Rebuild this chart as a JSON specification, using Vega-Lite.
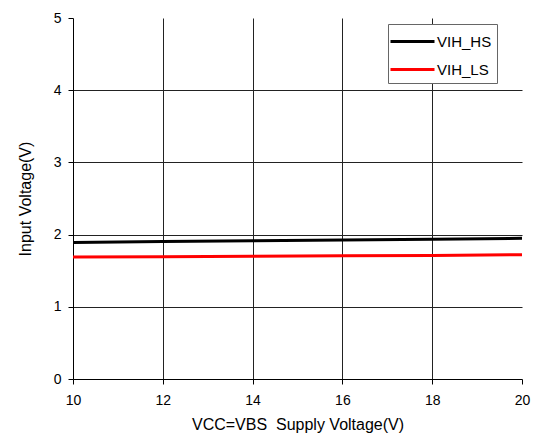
{
  "$schema": "https://vega.github.io/schema/vega-lite/v6.json",
  "width": 449,
  "height": 361,
  "autosize": "none",
  "padding": {"left": 73, "top": 18, "right": 15, "bottom": 58},
  "background": "white",
  "config": {
    "view": {"stroke": null},
    "font": "Liberation Sans",
    "axis": {
      "domainColor": "black",
      "tickColor": "black",
      "gridColor": "#222",
      "gridWidth": 1,
      "labelFont": "Liberation Sans",
      "titleFont": "Liberation Sans",
      "labelColor": "black",
      "titleColor": "black",
      "labelFontSize": 14,
      "titleFontSize": 16,
      "titleFontWeight": "normal",
      "tickSize": 5,
      "labelFlush": false
    }
  },
  "data": {
    "values": [
      {"vcc": 10, "v": 1.89, "s": "VIH_HS"},
      {"vcc": 12, "v": 1.905, "s": "VIH_HS"},
      {"vcc": 14, "v": 1.915, "s": "VIH_HS"},
      {"vcc": 16, "v": 1.925, "s": "VIH_HS"},
      {"vcc": 18, "v": 1.935, "s": "VIH_HS"},
      {"vcc": 20, "v": 1.948, "s": "VIH_HS"},
      {"vcc": 10, "v": 1.69, "s": "VIH_LS"},
      {"vcc": 12, "v": 1.692, "s": "VIH_LS"},
      {"vcc": 14, "v": 1.7, "s": "VIH_LS"},
      {"vcc": 16, "v": 1.708, "s": "VIH_LS"},
      {"vcc": 18, "v": 1.712, "s": "VIH_LS"},
      {"vcc": 20, "v": 1.722, "s": "VIH_LS"}
    ]
  },
  "mark": {"type": "line", "strokeWidth": 3},
  "encoding": {
    "x": {
      "field": "vcc",
      "type": "quantitative",
      "scale": {"domain": [10, 20], "nice": false, "zero": false},
      "axis": {
        "values": [10, 12, 14, 16, 18, 20],
        "title": "VCC=VBS\u00a0 Supply Voltage(V)",
        "labelPadding": 9,
        "titlePadding": 9,
        "gridOpacity": {"condition": {"test": "datum.value == 20 || datum.value == 10", "value": 0}, "value": 1}
      }
    },
    "y": {
      "field": "v",
      "type": "quantitative",
      "scale": {"domain": [0, 5], "nice": false},
      "axis": {
        "values": [0, 1, 2, 3, 4, 5],
        "title": "Input Voltage(V)",
        "labelPadding": 7,
        "titlePadding": 20,
        "gridOpacity": {"condition": {"test": "datum.value == 5 || datum.value == 0", "value": 0}, "value": 1}
      }
    },
    "color": {
      "field": "s",
      "type": "nominal",
      "scale": {"domain": ["VIH_HS", "VIH_LS"], "range": ["black", "red"]},
      "legend": {
        "title": null,
        "orient": "none",
        "legendX": 315,
        "legendY": 6,
        "strokeColor": "#666",
        "fillColor": "white",
        "padding": 5,
        "symbolType": "M-2,0H2",
        "symbolSize": 484,
        "symbolOffset": 7,
        "symbolStrokeWidth": 3,
        "labelFontSize": 15,
        "labelFont": "Liberation Sans",
        "labelColor": "black",
        "rowPadding": 7,
        "labelOffset": 12
      }
    }
  }
}
